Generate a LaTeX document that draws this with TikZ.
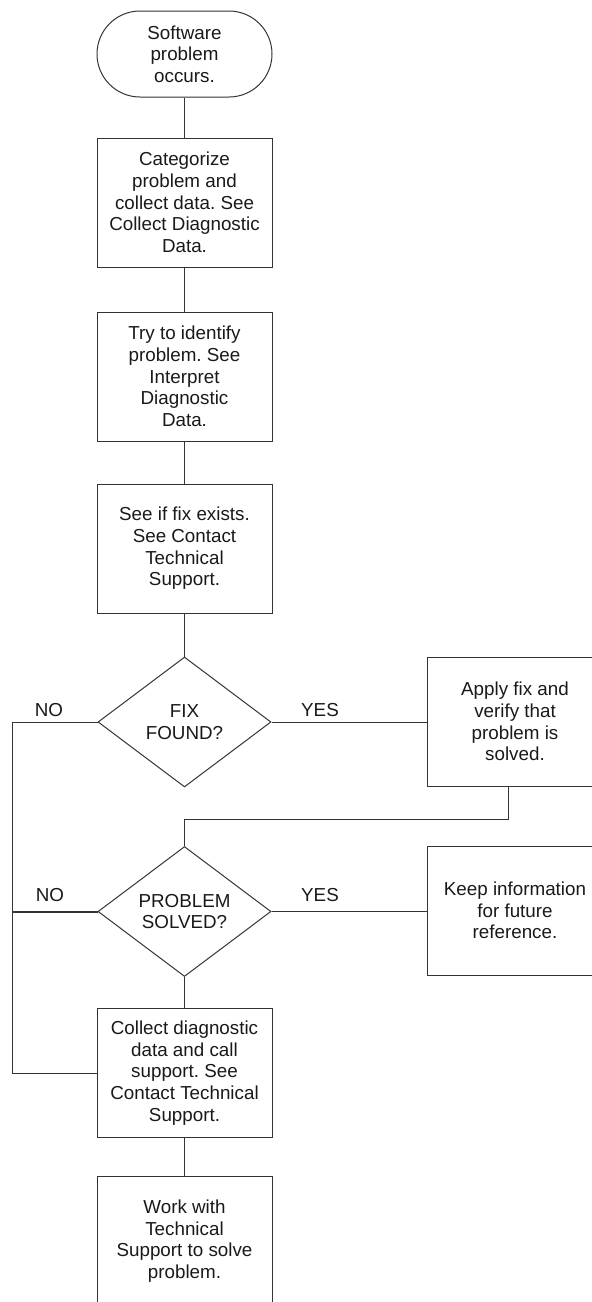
\documentclass[tikz,border=0pt]{standalone}
\usepackage{fontspec}
\setmainfont{Liberation Sans}
\usetikzlibrary{shapes.geometric,calc}
\frenchspacing
\begin{document}
\begin{tikzpicture}[x=1pt,y=-1pt,
  every node/.style={font=\fontsize{18.8}{21.7}\selectfont\frenchspacing, text=black!90, align=center},
  boxnode/.style={draw=black!80, line width=1pt, minimum width=175pt, minimum height=129pt, inner sep=0pt},
  termnode/.style={draw=black!80, line width=1pt, rounded corners=43pt, minimum width=175pt, minimum height=86pt, inner sep=0pt},
  decnode/.style={diamond, draw=black!80, line width=1pt, minimum width=173pt, minimum height=130pt, inner sep=0pt, aspect=1.33},
  conn/.style={draw=black!80, line width=1pt},
  lbl/.style={inner sep=0pt}]
\useasboundingbox (0,0) rectangle (592,1302);
\clip (0,0) rectangle (592,1302);
\coordinate (lft) at (12,0);
\coordinate (elb) at (0,819);

\node[termnode] (start) at (184.5,54) {Software\\problem\\occurs.};
\node[boxnode] (b1) at (184.5,202.5) {Categorize\\problem and\\collect data. See\\Collect Diagnostic\\Data.};
\node[boxnode] (b2) at (184.5,376.5) {Try to identify\\problem. See\\Interpret\\Diagnostic\\Data.};
\node[boxnode] (b3) at (184.5,548.5) {See if fix exists.\\See Contact\\Technical\\Support.};
\node[decnode] (d1) at (184.5,722) {FIX\\FOUND?};
\node[boxnode] (apply) at (515,721.5) {Apply fix and\\verify that\\problem is\\solved.};
\node[decnode] (d2) at (184.5,911.5) {PROBLEM\\SOLVED?};
\node[boxnode] (keep) at (515,910.5) {Keep information\\for future\\reference.};
\node[boxnode] (b4) at (184.5,1073) {Collect diagnostic\\data and call\\support. See\\Contact Technical\\Support.};
\node[boxnode] (b5) at (184.5,1241) {Work with\\Technical\\Support to solve\\problem.};

\node[lbl] (no1) at (49,710) {NO};
\node[lbl] (no2) at (50,895) {NO};
\node[lbl] (yes1) at (320,710) {YES};
\node[lbl] (yes2) at (320,895) {YES};

\draw[conn] (start.south) -- (b1.north);
\draw[conn] (b1.south) -- (b2.north);
\draw[conn] (b2.south) -- (b3.north);
\draw[conn] (b3.south) -- (d1.north);
\draw[conn] (d1.east) -- (d1.east -| apply.west);
\draw[conn] (d1.west) -- (d1.west -| lft) |- (b4.west);
\draw[conn, line width=2pt] (d2.west) -- (d2.west -| lft);
\draw[conn] (d2.east) -- (d2.east -| keep.west);
\draw[conn] ([xshift=-7pt]apply.south) |- (elb -| d2.north) -- (d2.north);
\draw[conn] (d2.south) -- (b4.north);
\draw[conn] (b4.south) -- (b5.north);
\end{tikzpicture}
\end{document}
